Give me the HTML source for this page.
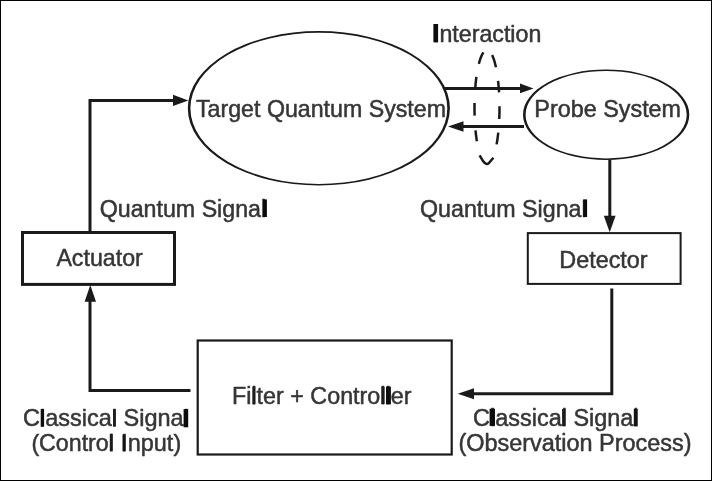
<!DOCTYPE html>
<html>
<head>
<meta charset="utf-8">
<title>Quantum feedback control diagram</title>
<style>
  html, body { margin: 0; padding: 0; background: #ffffff; }
  body { width: 712px; height: 481px; overflow: hidden; }
  svg { display: block; }
  text { font-family: "Liberation Sans", sans-serif; font-size: 23.2px; fill: #363636; stroke: #363636; stroke-width: 0.5px; stroke-linejoin: round; word-spacing: 0px; }
</style>
</head>
<body>
<svg width="712" height="481" viewBox="0 0 712 481">
  <rect x="0" y="0" width="712" height="481" fill="#ffffff"/>
  <!-- outer border -->
  <rect x="0.5" y="0.5" width="711" height="480" fill="none" stroke="#000" stroke-width="1"/>

  <defs>
    <filter id="softer" x="0" y="0" width="712" height="481" filterUnits="userSpaceOnUse" color-interpolation-filters="sRGB">
      <feGaussianBlur stdDeviation="0.5"/>
    </filter>
  </defs>
  <g id="shapes">
  <!-- ellipses -->
  <path d="M187.80 108.30 A131.05 77.20 0 1 1 449.90 108.30 A131.05 77.20 0 1 1 187.80 108.30 Z M190.40 108.30 A128.45 75.60 0 1 1 447.30 108.30 A128.45 75.60 0 1 1 190.40 108.30 Z" fill="#1a1a1a" fill-rule="evenodd"/>
  <path d="M523.00 114.70 A83.15 45.25 0 1 1 689.30 114.70 A83.15 45.25 0 1 1 523.00 114.70 Z M525.60 114.70 A80.55 43.75 0 1 1 686.70 114.70 A80.55 43.75 0 1 1 525.60 114.70 Z" fill="#1a1a1a" fill-rule="evenodd"/>
  <path id="dash" d="M483.43 52.40 L482.51 53.84 L481.77 55.27 L481.14 56.71 L480.58 58.15 L480.09 59.59 L479.64 61.02 L479.23 62.46 L478.85 63.90 M476.43 76.80 L476.24 78.22 L476.06 79.65 L475.90 81.08 L475.74 82.50 L475.60 83.92 L475.46 85.35 L475.34 86.78 L475.23 88.20 M474.54 103.10 L474.52 104.66 L474.50 106.22 L474.50 107.79 L474.51 109.35 L474.52 110.91 L474.55 112.47 L474.58 114.04 L474.62 115.60 M475.53 130.40 L475.67 131.76 L475.81 133.12 L475.96 134.49 L476.12 135.85 L476.30 137.21 L476.48 138.58 L476.68 139.94 L476.89 141.30 M492.15 55.10 L492.83 56.62 L493.42 58.15 L493.94 59.67 L494.41 61.20 L494.84 62.73 L495.24 64.25 L495.60 65.78 L495.94 67.30 M498.07 80.80 L498.23 82.24 L498.38 83.67 L498.51 85.11 L498.64 86.55 L498.76 87.99 L498.87 89.42 L498.97 90.86 L499.06 92.30 M499.50 106.20 L499.50 107.80 L499.49 109.40 L499.48 111.00 L499.45 112.60 L499.41 114.20 L499.37 115.80 L499.31 117.40 L499.25 119.00 M498.24 132.70 L498.07 134.16 L497.90 135.62 L497.72 137.09 L497.52 138.55 L497.31 140.01 L497.08 141.47 L496.84 142.94 L496.59 144.40 M479.6 155.4 L483.2 161.3 Q486.8 166.3 489.6 162.3 L493.4 157.8" fill="none" stroke="#1a1a1a" stroke-width="2.5"/>

  <!-- boxes -->
  <rect x="22.5" y="232.5" width="152" height="51.9" fill="none" stroke="#1a1a1a" stroke-width="3"/>
  <rect x="527.8" y="233.1" width="152.8" height="50.8" fill="none" stroke="#1a1a1a" stroke-width="2"/>
  <rect x="197.7" y="340.5" width="254" height="114" fill="none" stroke="#1a1a1a" stroke-width="2.2"/>

  <!-- connectors -->
  <g fill="none" stroke="#1a1a1a" stroke-width="3">
    <path d="M90 232 V100.4 H176"/>
    <path d="M190.5 390.4 H90 V300"/>
    <path d="M611.8 288.5 V393.7 H472"/>
    <path d="M609.8 159.5 V217"/>
    <path d="M444 88.4 H520" stroke-width="3"/>
    <path d="M524 126.5 H462" stroke-width="3.2"/>
  </g>
  <g fill="#1a1a1a" stroke="none">
    <polygon points="188.3,100.4 173,94.7 173,106.1"/>
    <polygon points="90.3,285 84.6,301.7 96,301.7"/>
    <polygon points="457.7,393.7 474,388.2 474,399.2"/>
    <polygon points="609.7,232.3 603.8,215.7 615.6,215.7"/>
    <polygon points="533.5,88.4 520,83.5 520,93.3"/>
    <polygon points="448,126.5 463.5,121.2 463.5,131.8"/>
  </g>

  </g>
  <!-- labels -->
  <g filter="url(#softer)">
  <text id="tq" transform="translate(196.0,117.3) scale(1.0,1.0)">Target Quantum System</text>
  <text id="ps" transform="translate(534.3,117.2) scale(1.008,1.0)">Probe System</text>
  <text id="ia" transform="translate(433,41.8) scale(1.0,1.0)">Interaction</text>
  <text id="q1" transform="translate(99.7,216.6) scale(1.001,1.0)">Quantum Signal</text>
  <text id="q2" transform="translate(420,216.6) scale(1.002,1.0)">Quantum Signal</text>
  <text id="ac" transform="translate(56.4,265.9) scale(1.0,1.0)">Actuator</text>
  <text id="de" transform="translate(559.3,267.8) scale(1.008,1.0)">Detector</text>
  <text id="fc" transform="translate(232.0,403.6) scale(1.005,1.0)">Filter + Controller</text>
  <text id="c1" transform="translate(23,426.4) scale(1.0136,1.0)">Classical Signal</text>
  <text id="ci" transform="translate(31.4,450.8) scale(1.0,1.0)">(Control</text>
  <text id="ci2" transform="translate(121.2,450.8) scale(1.012,1.0)">Input)</text>
  <text id="c2" transform="translate(473.1,426.0) scale(1.011,1.0)">Classical Signal</text>
  <text id="op" transform="translate(458.4,451.3) scale(1.011,1.0)">(Observation Process)</text>
  <g id="bolds">
    <rect x="433.4" y="24.0" width="4.7" height="18.3" fill="#0c0c0c"/>
    <rect x="262.9" y="199.4" width="4.0" height="17.6" fill="#0c0c0c"/>
    <rect x="583.3" y="199.4" width="3.8" height="17.6" fill="#0c0c0c"/>
    <rect x="252.4" y="386.6" width="2.8" height="17.8" fill="#1c1c1c"/>
    <rect x="381.5" y="386.6" width="3.1" height="17.6" fill="#1c1c1c"/>
    <rect x="386.0" y="386.6" width="4.9" height="17.8" fill="#0c0c0c"/>
    <rect x="40.7" y="409.1" width="3.4" height="17.7" fill="#0c0c0c"/>
    <rect x="113.1" y="409.3" width="2.7" height="17.4" fill="#1c1c1c"/>
    <rect x="183.6" y="409.1" width="4.6" height="18.2" fill="#0c0c0c"/>
    <rect x="109.8" y="433.8" width="2.8" height="17.5" fill="#1c1c1c"/>
    <rect x="122.5" y="434.5" width="2.8" height="16.9" fill="#141414"/>
    <rect x="489.6" y="408.7" width="5.4" height="17.2" fill="#0c0c0c"/>
    <rect x="562.1" y="408.9" width="3.3" height="17.3" fill="#1c1c1c"/>
    <rect x="633.8" y="408.9" width="3.9" height="17.4" fill="#141414"/>
  </g>
  </g>
</svg>
</body>
</html>
